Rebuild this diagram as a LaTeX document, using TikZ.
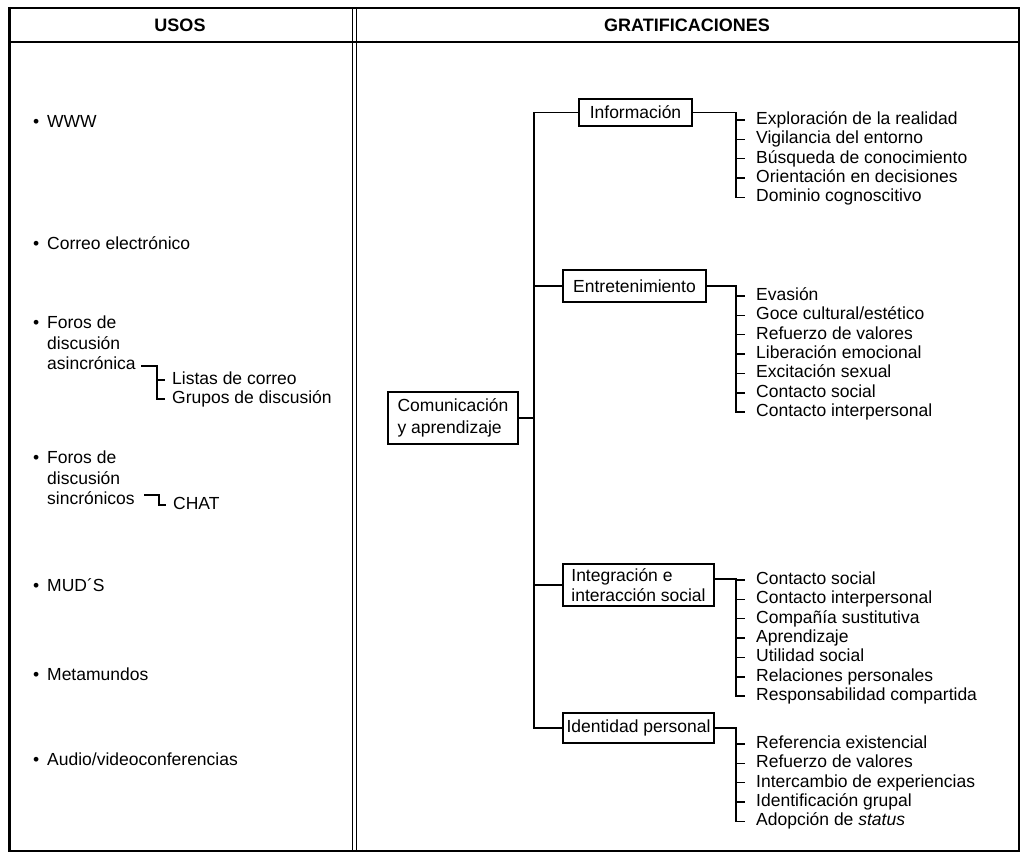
\documentclass[tikz,border=0pt]{standalone}
\usepackage{fontspec}
\setmainfont{Liberation Sans}
\newcommand\bul{•\hspace{0.45em}}
\newcommand\ind{\phantom{•}\hspace{0.45em}}
\tikzset{
  ln/.style={line width=1.5pt, line cap=rect},
  txt/.style={font=\fontsize{17.5}{20.5}\selectfont},
  lft/.style={txt, anchor=west, inner sep=0pt, align=left},
  itm/.style={txt, anchor=west, inner xsep=12pt, inner ysep=1pt, text height=12.5pt, text depth=3.5pt},
  sub/.style={txt, anchor=west, inner xsep=8pt, inner ysep=1pt, text height=12.5pt, text depth=3.5pt},
  bx/.style={txt, draw, line width=1.6pt, inner sep=0pt, align=left},
  hdr/.style={font=\fontsize{18}{20}\selectfont\bfseries}
}
\newcommand\mklist[5]{%
  \foreach \t [count=\i] in {#5} {
    \node[itm] (#1\i) at (744,{#2+19.35*(\i-1)}) {\t};
    \draw[ln] (bk |- #1\i.west) -- (#1\i.west);
  }
  \draw[ln] (#3) -- (#3 -| bk) -- (bk |- #1#4.west);
}
\begin{document}
\begin{tikzpicture}[x=1pt,y=-1pt]
\useasboundingbox (0,0) rectangle (1024,861);
\fill[white] (0,0) rectangle (1024,861);
% frame
\draw[line width=3pt] (9,7) -- (9,852);
\draw[line width=2.5pt] (8,8) -- (1020,8);
\draw[line width=2.5pt] (8,851) -- (1020,851);
\draw[line width=1.5pt] (1019,8) -- (1019,851);
\draw[line width=1.5pt] (9,42) -- (1019,42);
\draw[line width=1pt] (352,8) -- (352,851);
\draw[line width=1pt] (356,8) -- (356,851);
% headers
\node[hdr] (husos) at (180,25) {USOS};
\node[hdr] (hgrat) at (687,25) {GRATIFICACIONES};
% left column
\node[lft] (www) at (33,121) {\bul WWW};
\node[lft] (correo) at (33,243) {\bul Correo electrónico};
\node[lft] (fa) at (33,343) {\bul Foros de\\\ind discusión\\\ind asincrónica};
\node[sub] (li) at (164,380) {Listas de correo};
\node[sub] (gr) at (164,399) {Grupos de discusión};
\coordinate (lb) at (157,0);
\coordinate (fae) at ([xshift=6pt,yshift=-23pt]fa.east);
\draw[ln] (fae) -- (fae -| lb) -- (lb |- gr.west) -- (gr.west);
\draw[ln] (lb |- li.west) -- (li.west);
\node[lft] (fs) at (33,478) {\bul Foros de\\\ind discusión\\\ind sincrónicos};
\node[sub] (chat) at (165,505) {CHAT};
\coordinate (cb) at (159,0);
\coordinate (fse) at ([xshift=10pt,yshift=-17pt]fs.east);
\draw[ln] (fse) -- (fse -| cb) -- (cb |- chat.west) -- (chat.west);
\node[lft] (mud) at (33,585) {\bul MUD´S};
\node[lft] (meta) at (33,674) {\bul Metamundos};
\node[lft] (audio) at (33,759) {\bul Audio/videoconferencias};
% right column boxes
\node[bx, minimum width=130pt, minimum height=52pt, font=\fontsize{17.5}{21.5}\selectfont] (root) at (453,418) {Comunicación\\y aprendizaje};
\node[bx, minimum width=113pt, minimum height=27pt] (info) at (635.5,112.5) {Información};
\node[bx, minimum width=143pt, minimum height=32pt] (ent) at (634.5,286) {Entretenimiento};
\node[bx, minimum width=151pt, minimum height=42pt, font=\fontsize{17.5}{20}\selectfont] (integ) at (638.5,585) {Integración e\\interacción social};
\node[bx, minimum width=151pt, minimum height=30pt] (ident) at (638.5,728) {Identidad personal};
% trunk
\coordinate (tt) at (534,112.5);
\coordinate (tb) at (534,728);
\draw[ln] (info.west) -- (tt) -- (tb) -- (ident.west);
\draw[ln] (ent.west) -- (ent.west -| tt);
\draw[ln] (integ.west) -- (integ.west -| tt);
\draw[ln] (root.east) -- (root.east -| tt);
% brackets
\coordinate (bk) at (736,0);
\coordinate (ie) at ([yshift=6pt]integ.east);
\mklist{inf}{120}{info.east}{5}{Exploración de la realidad, Vigilancia del entorno, Búsqueda de conocimiento, Orientación en decisiones, Dominio cognoscitivo}
\mklist{en}{296}{ent.east}{7}{Evasión, Goce cultural/estético, Refuerzo de valores, Liberación emocional, Excitación sexual, Contacto social, Contacto interpersonal}
\mklist{ig}{580}{ie}{7}{Contacto social, Contacto interpersonal, Compañía sustitutiva, Aprendizaje, Utilidad social, Relaciones personales, Responsabilidad compartida}
\mklist{id}{744}{ident.east}{5}{Referencia existencial, Refuerzo de valores, Intercambio de experiencias, Identificación grupal, {Adopción de \textit{status}}}
\end{tikzpicture}
\end{document}
